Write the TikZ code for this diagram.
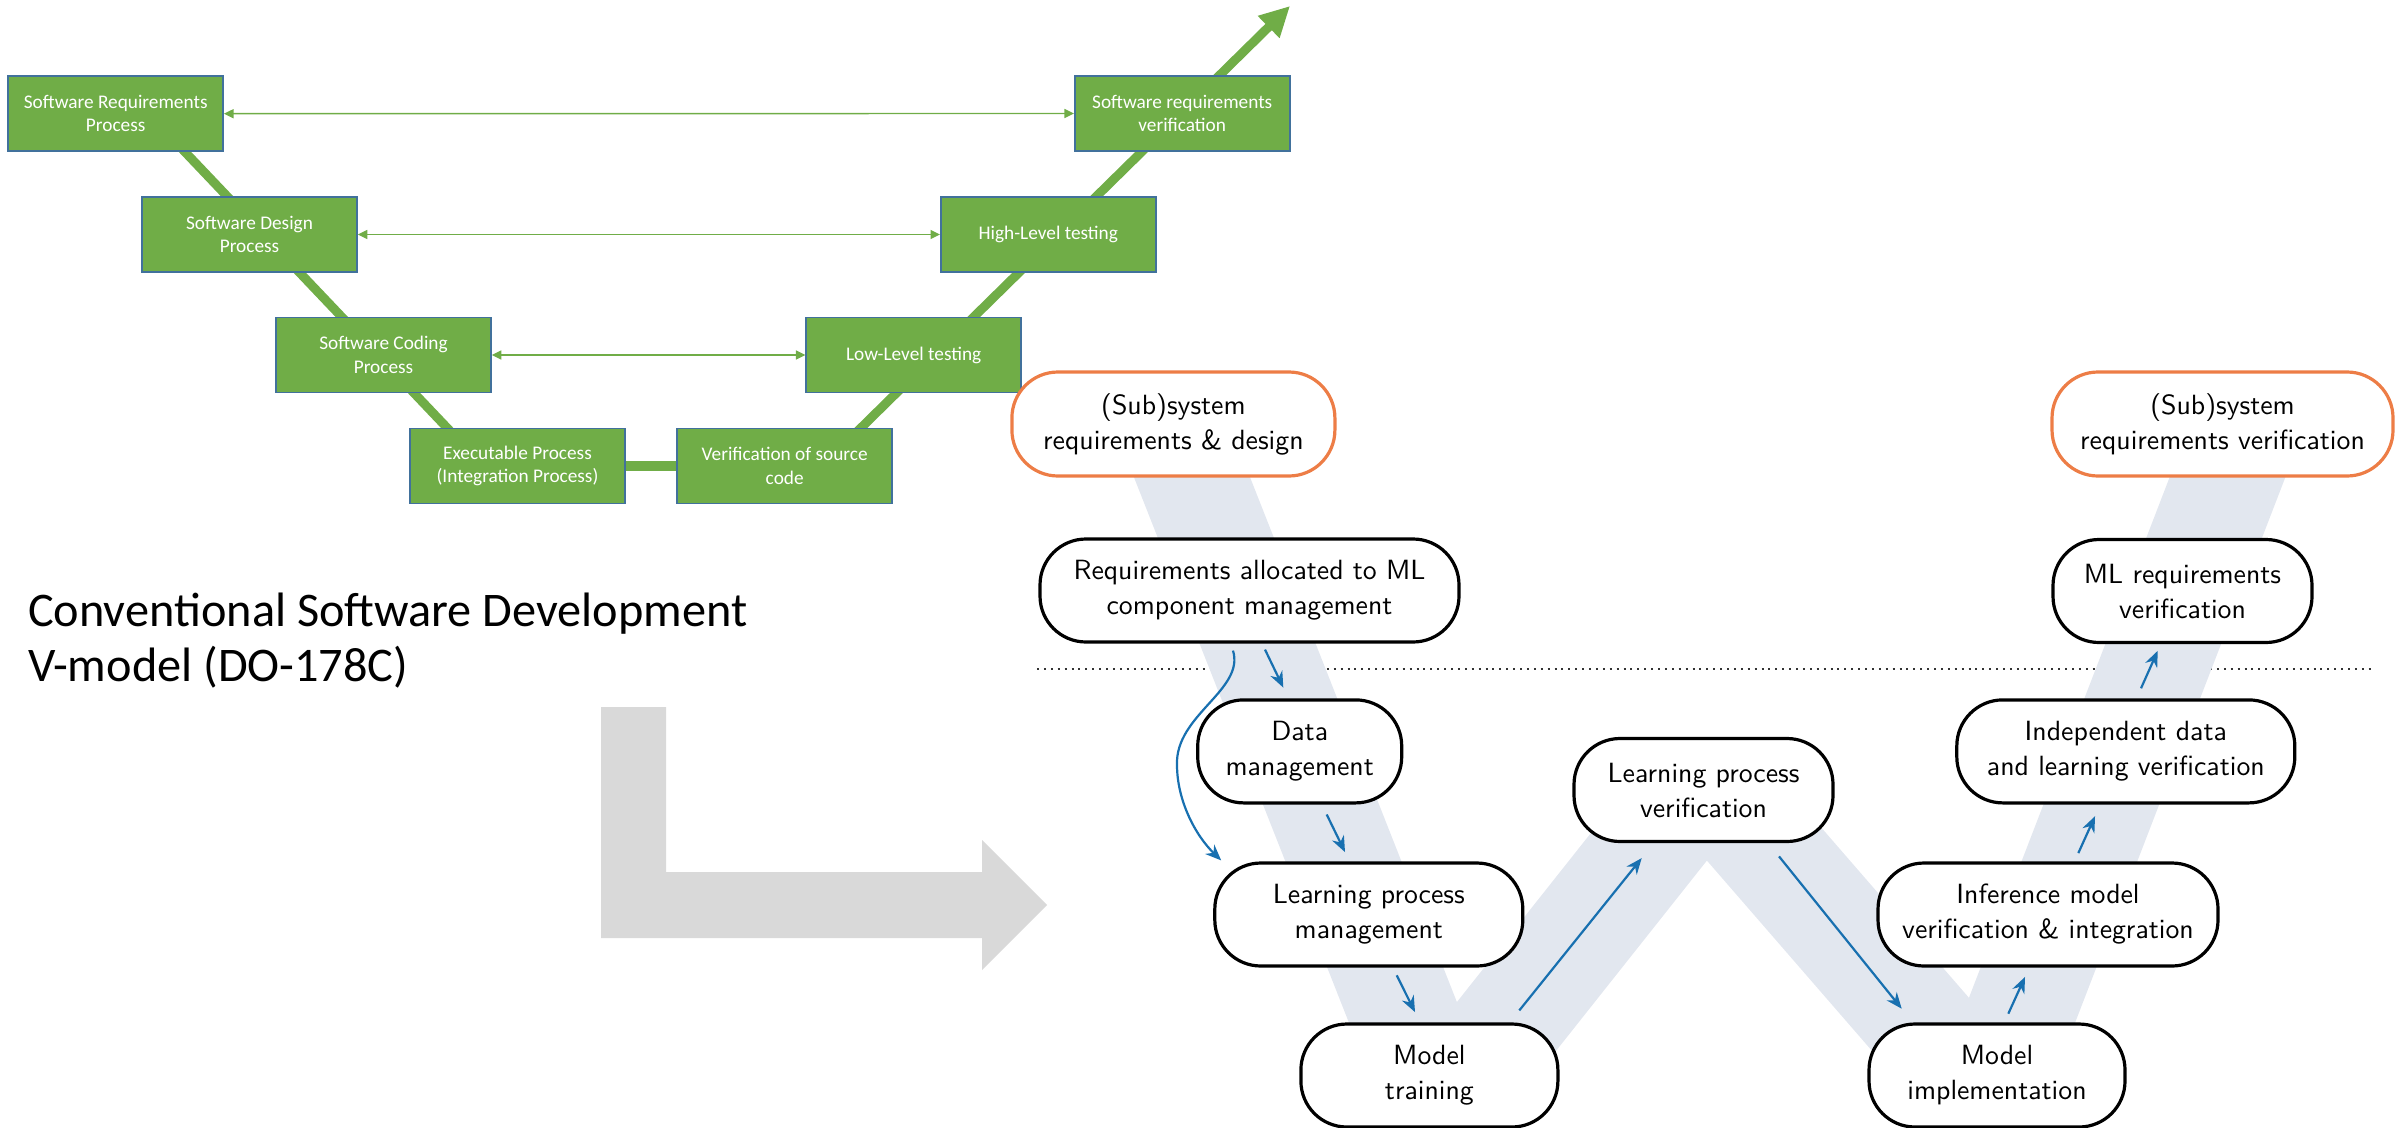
\documentclass[tikz,border=0pt]{standalone}
\usepackage{fontspec}
\newfontfamily\calibri{Carlito}
\newfontfamily\mlsans{lmsans10-regular.otf}
\usetikzlibrary{arrows.meta,calc}
\pgfdeclarelayer{background}
\pgfsetlayers{background,main}
\definecolor{vgreen}{RGB}{112,173,71}
\definecolor{vborder}{RGB}{65,113,156}
\definecolor{mlblue}{RGB}{24,112,176}
\definecolor{bandcol}{RGB}{226,231,239}
\definecolor{orng}{RGB}{237,125,70}
\definecolor{lgray}{RGB}{217,217,217}
\begin{document}
\begin{tikzpicture}[x=1pt,y=-1pt,
  gbox/.style={draw=vborder,line width=1.6pt,fill=vgreen,text=white,minimum width=215pt,minimum height=75pt,inner sep=0pt,align=center,font=\calibri\fontsize{19.3}{23.3}\selectfont},
  vline/.style={draw=vgreen,line width=9pt},
  tarrow/.style={draw=vgreen,line width=1.4pt,{Triangle[length=9.5pt,width=9pt]}-{Triangle[length=9.5pt,width=9pt]}},
  mlbox/.style={draw=black,line width=3.2pt,fill=white,rounded corners=46pt,minimum height=103pt,inner sep=0pt,align=center,font=\mlsans\fontsize{27.8}{35}\selectfont},
  topbox/.style={mlbox,draw=orng,minimum height=104pt},
  barrow/.style={draw=mlblue,line width=2.2pt,-{Stealth[length=16pt,width=13pt]}},
  title/.style={anchor=base west,inner sep=0pt,font=\calibri\fontsize{48.3}{55}\selectfont},
  bandline/.style={draw=bandcol,line width=108pt,line join=bevel},
  sepline/.style={draw=black!80,line width=2.2pt,dash pattern=on 2pt off 4.9pt}
]
\useasboundingbox (0,0) rectangle (2405,1127);

% ---------- conventional V-model ----------
\node[gbox] (g1) at (115.7,113.7) {Software Requirements\\Process};
\node[gbox] (g2) at (249.5,234.5) {Software Design\\Process};
\node[gbox] (g3) at (383.5,355) {Software Coding\\Process};
\node[gbox] (g4) at (517.5,466) {Executable Process\\(Integration Process)};
\node[gbox] (g5) at (784.7,466) {Verification of source\\code};
\node[gbox] (g6) at (913.7,355) {Low-Level testing};
\node[gbox] (g7) at (1048.3,234.5) {High-Level testing};
\node[gbox] (g8) at (1182.2,113.5) {Software requirements\\verification};
\coordinate (vtip) at (1290,6);

\draw[tarrow] (g1.east) -- (g8.west);
\draw[tarrow] (g2.east) -- (g7.west);
\draw[tarrow] (g3.east) -- (g6.west);

\node[title] (t1) at (28,626) {Conventional Software Development};
\node[title] (t2) at (28,681) {V-model (DO-178C)};

% ---------- ML W-model ----------
\node[topbox,minimum width=323pt] (sysd) at (1173.4,424) {(Sub)system\\requirements \& design};
\node[topbox,minimum width=341pt] (sysv) at (2222.5,424) {(Sub)system\\requirements verification};
\node[mlbox,minimum width=419pt] (req) at (1249.5,590.5) {Requirements allocated to ML\\component management};
\node[mlbox,minimum width=259pt] (mlreq) at (2182.5,591) {ML requirements\\verification};
\node[mlbox,minimum width=204pt] (data) at (1299.7,751.4) {Data\\management};
\node[mlbox,minimum width=338pt] (indep) at (2125.8,751.4) {Independent data\\and learning verification};
\node[mlbox,minimum width=308pt] (lpm) at (1368.8,914.5) {Learning process\\management};
\node[mlbox,minimum width=340pt] (inf) at (2048,914.5) {Inference model\\verification \& integration};
\node[mlbox,minimum width=259pt] (lpv) at (1703.5,790) {Learning process\\verification};
\node[mlbox,minimum width=257pt] (mt) at (1429.4,1075.5) {Model\\training};
\node[mlbox,minimum width=256pt] (mi) at (1997,1075.5) {Model\\implementation};

\draw[barrow] ($(req.south)+(-16.5,7)$) .. controls (1245,690) and (1175,715) .. (1177,765)
   .. controls (1177,800) and (1195,835) .. ($(lpm.north west)+(8,-1)$);
\draw[barrow] ($(req.south)+(15.5,6)$) -- ($(data.north)+(-16.4,-10.7)$);
\draw[barrow] ($(data.south)+(27,10)$) -- ($(lpm.north)+(-23.8,-9.3)$);
\draw[barrow] ($(lpm.south)+(27.9,7.7)$) -- ($(mt.north)+(-14.4,-10.3)$);
\draw[barrow] ($(mt.north)+(89.9,-12)$) -- ($(lpv.south)+(-61.8,15)$);
\draw[barrow] ($(lpv.south)+(75.5,13.3)$) -- ($(mi.north)+(-95.3,-13.7)$);
\draw[barrow] ($(mi.north)+(11.3,-8.7)$) -- ($(inf.south)+(-23,9.3)$);
\draw[barrow] ($(inf.north)+(30.3,-8.3)$) -- ($(indep.south)+(-30.8,11.7)$);
\draw[barrow] ($(indep.north)+(15.2,-10)$) -- ($(mlreq.south)+(-24.8,6.7)$);

\begin{pgfonlayer}{background}
  \draw[vline] ($(g1.south)+(62.3,-7.4)$) -- ($(g4.north)+(-63.5,7.4)$);
  \draw[vline,-{Triangle[length=30pt,width=29pt]}] ($(g5.north)+(69.3,7)$) -- (vtip);
  \draw[draw=vgreen,line width=10pt] (g4) -- (g5);
  \fill[lgray] (601,707) -- (666,707) -- (666,872) -- (982,872) -- (982,840) -- (1047,905)
     -- (982,970) -- (982,938) -- (601,938) -- cycle;
  \draw[sepline] (1037,669) -- (2375,669);
  \draw[bandline] (1171,424) -- (1441,1109) -- (1705,776) -- (1987,1101) -- (2248,424);
\end{pgfonlayer}
\end{tikzpicture}
\end{document}
